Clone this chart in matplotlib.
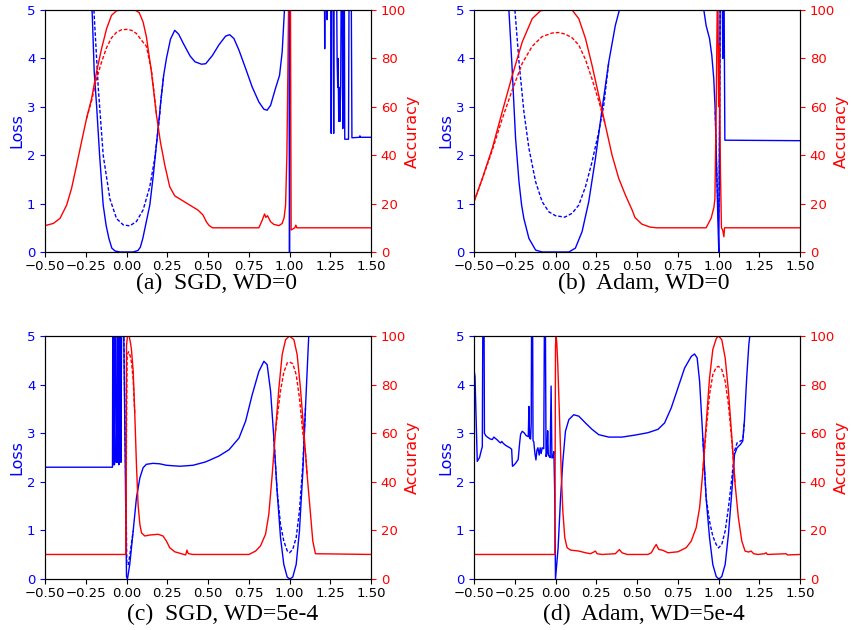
import matplotlib
matplotlib.use('Agg')
import matplotlib.pyplot as plt

# ---------------- data (x, value) pairs ----------------
# Panel (a) SGD, WD=0
A_LOSS_TR = [(-0.5,6.5),(-0.225,5.6),(-0.21,4.9),(-0.198,3.72),(-0.183,3.0),(-0.165,2.0),(-0.143,0.97),(-0.125,0.55),(-0.108,0.28),(-0.09,0.08),(-0.07,0.02),(-0.04,0.0),(0.04,0.0),(0.07,0.03),(0.085,0.1),(0.10,0.28),(0.12,0.6),(0.143,0.97),(0.165,1.6),(0.18,2.1),(0.194,2.55),(0.21,3.1),(0.228,3.65),(0.245,4.0),(0.27,4.4),(0.296,4.58),(0.32,4.5),(0.35,4.3),(0.39,4.05),(0.42,3.93),(0.46,3.88),(0.486,3.89),(0.527,4.06),(0.567,4.28),(0.608,4.46),(0.633,4.49),(0.659,4.41),(0.69,4.17),(0.731,3.79),(0.771,3.41),(0.812,3.10),(0.843,2.95),(0.863,2.93),(0.884,3.03),(0.914,3.38),(0.939,3.65),(0.955,4.13),(0.969,5.0),(0.975,6.0),(0.995,6.0),(0.998,3.0),(1.0,0.0),(1.003,3.0),(1.006,6.0),(1.214,6.0),(1.216,4.2),(1.218,6.0),(1.228,6.0),(1.231,4.8),(1.234,6.0),(1.253,6.0),(1.256,2.45),(1.259,6.0),(1.268,6.0),(1.271,2.45),(1.274,6.0),(1.288,6.0),(1.292,4.0),(1.296,3.4),(1.298,4.0),(1.302,2.7),(1.306,3.4),(1.31,2.7),(1.314,3.5),(1.318,6.0),(1.322,6.0),(1.327,2.55),(1.332,6.0),(1.336,6.0),(1.339,2.33),(1.362,2.33),(1.366,6.0),(1.378,6.0),(1.383,2.36),(1.43,2.37),(1.432,2.4),(1.434,2.37),(1.5,2.37)]
A_LOSS_TE = [[(-0.215,5.6),(-0.2,5.0),(-0.173,3.38),(-0.143,2.0),(-0.102,1.1),(-0.061,0.69),(-0.02,0.56),(0.02,0.54),(0.061,0.63),(0.102,0.87),(0.143,1.35),(0.173,1.93),(0.204,2.83),(0.21,3.1),(0.228,3.65)]]
A_ACC_TR = [(-0.5,10.9),(-0.449,11.8),(-0.408,13.9),(-0.367,19.4),(-0.337,26.3),(-0.306,35.9),(-0.276,45.5),(-0.245,55.2),(-0.214,63.4),(-0.184,74.4),(-0.153,84.0),(-0.122,92.3),(-0.092,97.8),(-0.061,99.7),(-0.031,100),(0.051,100),(0.078,98.9),(0.102,95.0),(0.122,88.9),(0.153,74.4),(0.184,56.5),(0.208,45.5),(0.235,35.9),(0.265,27.0),(0.296,23.2),(0.337,21.5),(0.388,19.4),(0.439,17.3),(0.469,15.3),(0.49,12.5),(0.506,11.0),(0.527,10.0),(0.812,10.0),(0.833,13.2),(0.847,15.7),(0.855,14.3),(0.865,15.0),(0.884,12.5),(0.904,11.4),(0.935,10.9),(0.955,11.8),(0.967,14.2),(0.976,19.4),(0.984,40.0),(0.99,74.4),(0.994,100),(1.006,100),(1.01,9.1),(1.02,9.5),(1.033,10.0),(1.039,11.1),(1.045,10.0),(1.5,10.0)]
A_ACC_TE = [[(-0.245,55.2),(-0.214,62.5),(-0.184,71.5),(-0.153,78.5),(-0.122,84.5),(-0.092,88.5),(-0.061,90.8),(-0.031,91.8),(0.0,92.0),(0.031,91.6),(0.061,90.3),(0.092,87.5),(0.122,85.0),(0.153,75.0),(0.17,65.5),(0.184,56.5)]]

# Panel (b) Adam, WD=0
B_LOSS_TR = [(-0.5,6.5),(-0.29,5.6),(-0.286,5.0),(-0.276,4.41),(-0.265,3.72),(-0.255,3.03),(-0.245,2.35),(-0.224,1.45),(-0.208,0.97),(-0.194,0.69),(-0.163,0.28),(-0.122,0.04),(-0.082,0.0),(0.082,0.0),(0.122,0.08),(0.163,0.42),(0.204,1.04),(0.245,1.93),(0.286,2.96),(0.327,3.93),(0.367,4.68),(0.392,5.0),(0.40,5.6),(0.90,6.0),(0.91,5.0),(0.924,4.68),(0.945,4.41),(0.959,4.06),(0.971,3.58),(0.98,2.90),(0.988,1.80),(0.996,0.69),(1.002,0.0),(1.006,2.35),(1.01,5.0),(1.013,6.0),(1.022,6.0),(1.026,4.0),(1.03,6.0),(1.033,6.0),(1.039,2.31),(1.5,2.30)]
B_LOSS_TE = [[(-0.255,5.6),(-0.249,5.0),(-0.224,3.93),(-0.194,2.9),(-0.163,2.14),(-0.122,1.45),(-0.082,1.04),(-0.041,0.83),(0.0,0.75),(0.057,0.72),(0.102,0.80),(0.143,0.97),(0.184,1.35),(0.224,1.86),(0.265,2.48),(0.296,3.03),(0.327,3.93)],
             [(0.98,2.90),(0.988,1.80),(0.996,1.0),(1.0,0.65),(1.004,1.2),(1.008,3.5),(1.012,6.0)]]
B_ACC_TR = [(-0.5,20.8),(-0.449,30.4),(-0.388,42.8),(-0.327,57.9),(-0.265,73.0),(-0.204,86.8),(-0.143,96.4),(-0.092,99.7),(-0.061,100),(0.102,100),(0.143,96.4),(0.184,88.2),(0.224,77.2),(0.265,64.8),(0.306,52.4),(0.347,40.0),(0.388,30.4),(0.429,23.5),(0.469,17.5),(0.488,14.2),(0.53,11.5),(0.58,10.3),(0.62,10.0),(0.924,10.0),(0.955,14.0),(0.972,18.5),(0.978,22.0),(0.986,60.0),(0.992,100),(0.997,100),(1.001,60.0),(1.004,85.4),(1.008,60.0),(1.012,33.0),(1.018,10.0),(1.026,9.0),(1.033,6.3),(1.037,10.0),(1.5,10.0)]
B_ACC_TE = [[(-0.5,20.8),(-0.449,30.2),(-0.388,42.0),(-0.327,55.0),(-0.265,67.0),(-0.204,78.0),(-0.143,85.0),(-0.082,89.0),(-0.02,90.5),(0.02,90.7),(0.061,90.0),(0.102,88.5),(0.143,85.5),(0.184,79.5),(0.224,71.5),(0.265,62.5),(0.306,52.4)]]

# Panel (c) SGD, WD=5e-4
C_LOSS_TR = [(-0.5,2.30),(-0.086,2.30),(-0.084,6.0),(-0.081,2.35),(-0.078,6.0),(-0.074,2.35),(-0.07,6.0),(-0.066,6.0),(-0.063,2.40),(-0.06,3.1),(-0.057,2.4),(-0.054,6.0),(-0.05,6.0),(-0.047,2.35),(-0.044,6.0),(-0.04,3.3),(-0.037,6.0),(-0.034,2.40),(-0.031,4.6),(-0.028,6.0),(-0.02,6.0),(0.0,0.05),(0.006,0.0),(0.02,0.3),(0.041,0.99),(0.061,1.67),(0.082,2.08),(0.102,2.29),(0.122,2.36),(0.163,2.38),(0.204,2.37),(0.245,2.34),(0.327,2.32),(0.408,2.34),(0.486,2.41),(0.567,2.53),(0.629,2.66),(0.69,2.90),(0.731,3.25),(0.771,3.79),(0.812,4.27),(0.843,4.48),(0.863,4.41),(0.884,3.86),(0.904,2.90),(0.924,1.81),(0.945,0.85),(0.965,0.30),(0.986,0.04),(1.002,0.0),(1.02,0.04),(1.041,0.30),(1.061,0.99),(1.082,2.22),(1.098,3.52),(1.118,5.0),(1.13,6.0),(1.5,6.5)]
C_LOSS_TE = [[(-0.02,6.0),(0.002,0.3),(0.012,0.3),(0.025,0.6),(0.041,0.99)],
             [(0.904,2.90),(0.924,1.81),(0.945,1.12),(0.965,0.78),(0.986,0.58),(1.0,0.54),(1.02,0.61),(1.041,0.85),(1.061,1.40),(1.082,2.36),(1.098,3.52)]]
C_ACC_TR = [(-0.5,10.1),(-0.004,10.1),(0.0,96.0),(0.006,100),(0.016,100),(0.025,97.0),(0.031,94.0),(0.041,85.5),(0.051,67.7),(0.061,47.1),(0.071,30.7),(0.082,22.5),(0.092,19.0),(0.112,17.7),(0.143,18.1),(0.194,18.4),(0.224,17.7),(0.245,15.6),(0.265,12.9),(0.296,11.2),(0.337,10.4),(0.363,9.9),(0.371,11.9),(0.376,10.8),(0.382,10.4),(0.408,10.1),(0.751,10.1),(0.792,11.5),(0.822,13.6),(0.853,18.4),(0.873,26.6),(0.894,43.0),(0.914,60.8),(0.935,78.6),(0.955,92.3),(0.976,98.5),(1.0,100),(1.027,98.5),(1.047,92.3),(1.067,78.6),(1.088,60.8),(1.108,43.0),(1.129,26.6),(1.143,15.6),(1.159,10.4),(1.5,10.1)]
C_ACC_TE = [[(-0.004,10.1),(0.0,60.0),(0.004,92.0),(0.012,93.5),(0.022,92.0),(0.031,89.0),(0.041,82.0),(0.051,67.7)],
            [(0.914,60.8),(0.924,66.3),(0.945,77.5),(0.965,85.0),(0.986,88.9),(1.0,89.3),(1.02,88.6),(1.041,84.1),(1.061,74.5),(1.082,60.0),(1.098,52.0),(1.108,43.0)]]

# Panel (d) Adam, WD=5e-4
D_LOSS_TR = [(-0.5,4.3),(-0.494,4.17),(-0.48,2.42),(-0.466,2.5),(-0.455,2.65),(-0.449,2.72),(-0.445,6.0),(-0.439,6.0),(-0.436,3.0),(-0.428,2.95),(-0.418,2.92),(-0.40,2.88),(-0.388,2.87),(-0.378,2.92),(-0.371,2.90),(-0.357,2.86),(-0.345,2.82),(-0.337,2.80),(-0.33,2.83),(-0.32,2.79),(-0.306,2.75),(-0.28,2.70),(-0.269,2.67),(-0.264,2.32),(-0.259,2.33),(-0.245,2.38),(-0.229,2.46),(-0.22,2.8),(-0.214,2.98),(-0.204,3.04),(-0.19,3.0),(-0.18,2.95),(-0.167,2.93),(-0.163,3.55),(-0.159,2.9),(-0.153,2.88),(-0.149,3.2),(-0.146,6.0),(-0.141,6.0),(-0.138,2.85),(-0.133,2.82),(-0.127,2.6),(-0.12,2.45),(-0.114,2.65),(-0.108,2.70),(-0.1,2.55),(-0.094,2.70),(-0.088,2.58),(-0.082,2.70),(-0.072,2.68),(-0.067,6.0),(-0.063,6.0),(-0.058,2.52),(-0.052,2.60),(-0.048,3.05),(-0.044,2.55),(-0.038,2.52),(-0.033,2.50),(-0.027,3.97),(-0.022,2.49),(-0.016,2.50),(-0.01,2.62),(-0.005,1.8),(0.0,0.0),(0.016,0.64),(0.031,1.67),(0.045,2.42),(0.061,3.04),(0.082,3.28),(0.112,3.38),(0.143,3.35),(0.184,3.21),(0.224,3.08),(0.265,2.97),(0.327,2.92),(0.408,2.92),(0.486,2.96),(0.567,3.01),(0.629,3.08),(0.669,3.21),(0.71,3.52),(0.751,3.93),(0.792,4.34),(0.833,4.58),(0.853,4.63),(0.869,4.55),(0.884,4.07),(0.904,2.90),(0.924,1.67),(0.945,0.85),(0.965,0.30),(0.986,0.05),(1.002,0.0),(1.02,0.05),(1.041,0.30),(1.061,0.92),(1.082,1.81),(1.098,2.56),(1.114,2.70),(1.135,2.77),(1.149,2.84),(1.159,3.25),(1.173,4.14),(1.186,4.82),(1.192,5.0),(1.2,6.0),(1.5,6.5)]
D_LOSS_TE = [[(0.904,2.90),(0.924,1.67),(0.945,1.19),(0.965,0.88),(0.986,0.71),(1.0,0.64),(1.02,0.71),(1.041,0.99),(1.061,1.47),(1.082,2.08),(1.098,2.63),(1.114,2.80),(1.135,2.84),(1.149,2.86),(1.159,3.25)]]
D_ACC_TR = [(-0.5,10.1),(-0.004,10.1),(0.0,96.0),(0.004,100),(0.008,97.0),(0.014,88.2),(0.024,67.7),(0.035,44.4),(0.045,27.9),(0.057,17.0),(0.071,12.9),(0.092,11.9),(0.143,11.5),(0.184,10.8),(0.214,10.4),(0.235,11.1),(0.245,11.5),(0.255,10.4),(0.286,10.1),(0.367,10.4),(0.383,11.5),(0.392,12.1),(0.408,10.8),(0.439,10.1),(0.567,10.1),(0.588,10.8),(0.608,13.2),(0.618,14.2),(0.633,12.2),(0.659,11.8),(0.69,10.8),(0.751,11.2),(0.802,12.9),(0.833,15.6),(0.863,21.1),(0.884,29.3),(0.904,44.4),(0.924,63.6),(0.945,82.7),(0.965,94.4),(0.986,98.9),(1.0,100),(1.02,98.5),(1.041,91.0),(1.061,77.3),(1.082,58.1),(1.102,38.9),(1.122,25.2),(1.143,15.6),(1.163,11.5),(1.184,11.1),(1.2,11.5),(1.216,10.4),(1.241,10.1),(1.282,10.4),(1.292,10.8),(1.3,10.1),(1.414,10.4),(1.424,9.9),(1.5,10.1)]
D_ACC_TE = [[(0.904,44.4),(0.924,60.8),(0.945,75.9),(0.965,84.1),(0.986,87.1),(1.0,87.5),(1.02,86.2),(1.041,81.4),(1.061,71.8),(1.082,56.7),(1.102,38.9)]]

CAPTIONS = ['(a)  SGD, WD=0', '(b)  Adam, WD=0', '(c)  SGD, WD=5e-4', '(d)  Adam, WD=5e-4']
X_TICKS = [-0.5, -0.25, 0.0, 0.25, 0.5, 0.75, 1.0, 1.25, 1.5]
LOSS_TICKS = [0, 1, 2, 3, 4, 5]
ACC_TICKS = [0, 20, 40, 60, 80, 100]

# ---------------- layout ----------------
W, H = 851, 630
fig = plt.figure(figsize=(W / 100, H / 100), dpi=100)

def rect(l, t, r, b):
    return [l / W, 1 - b / H, (r - l) / W, (b - t) / H]

panels = [
    (rect(45, 10, 371, 252), A_LOSS_TR, A_LOSS_TE, A_ACC_TR, A_ACC_TE, (216, 283)),
    (rect(474, 10, 800, 252), B_LOSS_TR, B_LOSS_TE, B_ACC_TR, B_ACC_TE, (644, 283)),
    (rect(45, 336, 371, 579), C_LOSS_TR, C_LOSS_TE, C_ACC_TR, C_ACC_TE, (223, 614)),
    (rect(474, 336, 800, 579), D_LOSS_TR, D_LOSS_TE, D_ACC_TR, D_ACC_TE, (644, 614)),
]

BLUE = '#0000ff'
RED = '#ff0000'
LW = 1.0
DASH = (2.6, 1.4)

def xy(pairs):
    return [p[0] for p in pairs], [p[1] for p in pairs]

for i, (pos, ltr, lte, atr, ate, cap) in enumerate(panels):
    ax = fig.add_axes(pos)
    ax2 = ax.twinx()
    x, y = xy(ltr)
    ax.plot(x, y, color=BLUE, lw=LW)
    for seg in lte:
        x, y = xy(seg)
        ax.plot(x, y, color=BLUE, lw=LW, ls='--', dashes=DASH)
    x, y = xy(atr)
    ax2.plot(x, y, color=RED, lw=LW)
    for seg in ate:
        x, y = xy(seg)
        ax2.plot(x, y, color=RED, lw=LW, ls='--', dashes=DASH)

    ax.set_xlim(-0.5, 1.5)
    ax.set_ylim(0, 5)
    ax2.set_ylim(0, 100)
    ax.set_xticks(X_TICKS)
    ax.set_yticks(LOSS_TICKS)
    ax2.set_yticks(ACC_TICKS)
    ax.tick_params(axis='x', labelsize=9.5, colors='black', pad=2.5)
    ax.tick_params(axis='y', labelsize=9.5, colors=BLUE)
    ax2.tick_params(axis='y', labelsize=9.5, colors=RED)
    ax.set_ylabel('Loss', color=BLUE, fontsize=11.5)
    ax2.set_ylabel('Accuracy', color=RED, fontsize=11.5)
    ax.yaxis.set_label_coords(-0.064, 0.5)
    ax2.yaxis.set_label_coords(1.105, 0.5)
    fig.text(cap[0] / W, 1 - cap[1] / H, CAPTIONS[i], ha='center', va='center',
             family='Liberation Serif', fontsize=17)

fig.savefig('out.png', dpi=100)
